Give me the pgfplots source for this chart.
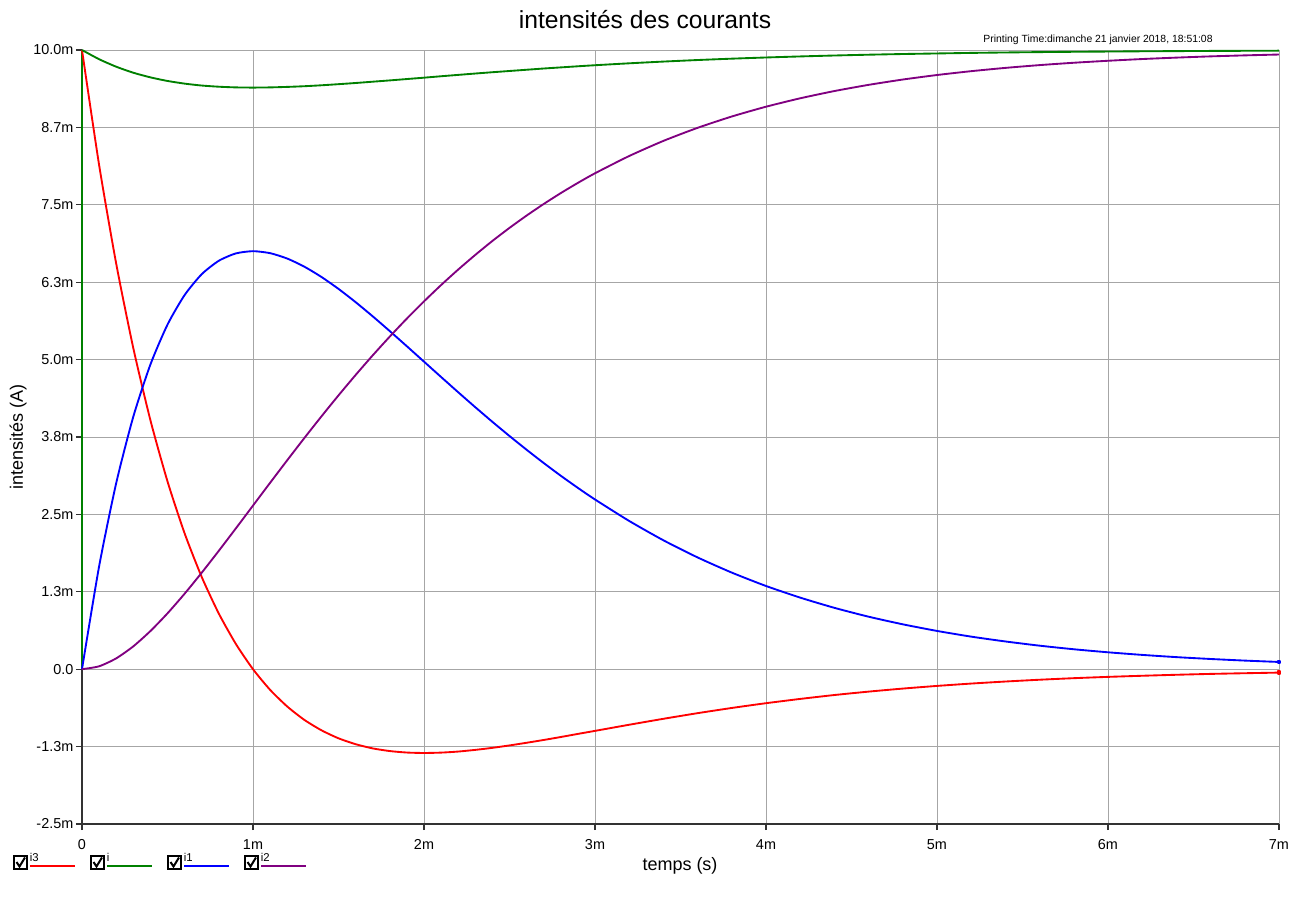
\documentclass[border=0pt]{standalone}
\usepackage{pgfplots}
\usepackage{pgfplotstable}
\pgfplotsset{compat=1.18}
\usepackage{fontspec}
\setmainfont{Liberation Sans}
\definecolor{cred}{RGB}{255,0,0}
\definecolor{cgreen}{RGB}{0,128,0}
\definecolor{cblue}{RGB}{0,0,255}
\definecolor{cpurple}{RGB}{128,0,128}

\pgfplotstableread{
t    i3      i       i1     i2
0    10.000  10.000  0.000  0.000
0.1  8.144   9.851   1.660  0.047
0.2  6.550   9.730   3.005  0.175
0.3  5.186   9.633   4.078  0.369
0.4  4.022   9.558   4.920  0.616
0.5  3.033   9.500   5.565  0.902
0.6  2.195   9.457   6.042  1.219
0.7  1.490   9.426   6.379  1.558
0.8  0.899   9.407   6.596  1.912
0.9  0.407   9.396   6.715  2.275
1.0  0.000   9.393   6.751  2.642
1.1  -0.333  9.396   6.719  3.010
1.2  -0.602  9.404   6.632  3.374
1.3  -0.818  9.415   6.501  3.732
1.4  -0.986  9.430   6.335  4.082
1.5  -1.116  9.448   6.142  4.422
1.6  -1.211  9.467   5.928  4.751
1.7  -1.279  9.488   5.699  5.068
1.8  -1.322  9.509   5.460  5.372
1.9  -1.346  9.531   5.215  5.663
2.0  -1.353  9.553   4.967  5.940
2.1  -1.347  9.576   4.719  6.204
2.2  -1.330  9.598   4.473  6.454
2.3  -1.303  9.620   4.231  6.691
2.4  -1.270  9.641   3.995  6.916
2.5  -1.231  9.661   3.766  7.127
2.6  -1.188  9.681   3.544  7.326
2.7  -1.143  9.701   3.330  7.513
2.8  -1.095  9.719   3.124  7.689
2.9  -1.045  9.737   2.928  7.854
3.0  -0.996  9.754   2.741  8.009
3.2  -0.897  9.785   2.394  8.288
3.4  -0.801  9.813   2.082  8.532
3.6  -0.710  9.838   1.805  8.743
3.8  -0.626  9.860   1.560  8.926
4.0  -0.549  9.879   1.344  9.084
4.2  -0.480  9.896   1.156  9.220
4.4  -0.417  9.911   0.991  9.337
4.6  -0.362  9.924   0.848  9.437
4.8  -0.313  9.935   0.725  9.523
5.0  -0.270  9.944   0.618  9.596
5.2  -0.232  9.953   0.526  9.658
5.4  -0.199  9.960   0.448  9.711
5.6  -0.170  9.966   0.380  9.756
5.8  -0.145  9.971   0.322  9.794
6.0  -0.124  9.975   0.273  9.826
6.2  -0.106  9.979   0.231  9.854
6.4  -0.090  9.982   0.195  9.877
6.6  -0.076  9.985   0.165  9.897
6.8  -0.065  9.987   0.139  9.913
7.0  -0.055  9.989   0.117  9.927
}\datatable

\begin{document}
\begin{tikzpicture}
\begin{axis}[
  name=ax, at={(0,0)}, anchor=south west,
  width=897.75pt, height=580.5pt, scale only axis,
  xmin=0, xmax=7, ymin=-2.5, ymax=10,
  xtick={0,1,2,3,4,5,6,7},
  xticklabels={0,1m,2m,3m,4m,5m,6m,7m},
  ytick={-2.5,-1.25,0,1.25,2.5,3.75,5,6.25,7.5,8.75,10},
  yticklabels={-2.5m,-1.3m,0.0,1.3m,2.5m,3.8m,5.0m,6.3m,7.5m,8.7m,10.0m},
  grid=major,
  major grid style={color=black!35, line width=0.6pt},
  axis x line*=bottom, axis y line*=left,
  axis line style={black!80, line width=0.8pt},
  tick align=outside, major tick length=4.5pt,
  every tick/.style={black!80, line width=0.8pt},
  ticklabel style={font=\fontsize{10.8}{12}\selectfont},
  yticklabel style={xshift=1.5pt},
  xticklabel style={yshift=-3pt, text height=8pt, text depth=1pt},
  clip=false,
  every axis plot/.append style={line width=1.4pt, line join=round},
]
\addplot[cgreen] coordinates {(0,0) (0,10)};
\addplot[cred, smooth, tension=0.4] table[x=t, y=i3] {\datatable};
\addplot[cgreen, smooth, tension=0.4] table[x=t, y=i] {\datatable};
\addplot[cblue, smooth, tension=0.4] table[x=t, y=i1] {\datatable};
\addplot[cpurple, smooth, tension=0.4] table[x=t, y=i2] {\datatable};
\addplot[cblue, only marks, mark=square*, mark size=1pt] coordinates {(7,0.117)};
\addplot[cred, only marks, mark=square*, mark size=1pt] coordinates {(7,-0.055)};
\end{axis}
\begin{scope}[shift={(ax.south west)}]
\begin{scope}[xshift=-61.5pt, yshift=618pt, x=0.75pt, y=-0.75pt]
  \node[font=\fontsize{18.5}{20}\selectfont] at (645,20) {intensités des courants};
  \node[font=\fontsize{7.8}{9}\selectfont] at (1098,40) {Printing Time:dimanche 21 janvier 2018, 18:51:08};
  \node[font=\fontsize{13.5}{15}\selectfont] at (680,866) {temps (s)};
  \node[font=\fontsize{13.5}{15}\selectfont, rotate=90] at (18,437) {intensités (A)};
  % legend
  \foreach \bx/\lab/\col in {14/i3/cred, 91/i/cgreen, 168/i1/cblue, 245/i2/cpurple}{
    \draw[black, line width=0.9pt] (\bx,856) rectangle ++(13,13);
    \draw[black, line width=1.5pt] (\bx+2.5,862) -- (\bx+5.5,866.5) -- (\bx+11,857.5);
    \draw[\col, line width=1.4pt] (\bx+16,866) -- ++(45,0);
    \node[anchor=west, inner sep=0pt, font=\fontsize{8.5}{9}\selectfont] at (\bx+15.5,857) {\lab};
  }
  \pgfresetboundingbox
  \path[use as bounding box] (0,0) rectangle (1290,901);
\end{scope}
\end{scope}
\end{tikzpicture}
\end{document}
